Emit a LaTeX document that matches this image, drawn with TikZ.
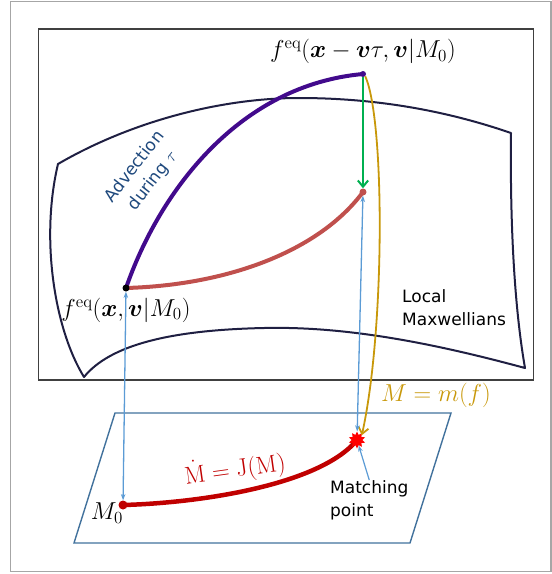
\documentclass[tikz,border=0pt]{standalone}
\usepackage{amsmath,amssymb,bm}
\usepackage[no-math]{fontspec}
\setmainfont{DejaVu Sans}
\usepackage{tikz}
\usetikzlibrary{arrows.meta,calc,positioning,shapes.geometric}

\definecolor{surfnavy}{RGB}{31,31,66}
\definecolor{advpurple}{RGB}{66,10,140}
\definecolor{flowred}{RGB}{192,80,77}
\definecolor{odered}{RGB}{192,0,0}
\definecolor{projgreen}{RGB}{0,176,80}
\definecolor{momgold}{RGB}{200,152,10}
\definecolor{liftblue}{RGB}{91,155,213}
\definecolor{planeblue}{RGB}{65,113,156}
\definecolor{txtblue}{RGB}{31,73,125}

\begin{document}
\begin{tikzpicture}[
    x=1pt, y=-1pt,
    txt/.style={
        font=\fontsize{17}{23}\selectfont,
        align=left,
        inner sep=0pt
    },
    mathlbl/.style={
        font=\huge,
        scale=1.18,
        inner sep=0pt
    },
    dot/.style={
        circle,
        fill,
        inner sep=0pt,
        minimum size=#1
    },
    dot/.default=7pt,
    surf/.style={
        draw=surfnavy,
        line width=2pt,
        line join=round
    },
    lift/.style={{Stealth[length=2.2mm,width=1.6mm]}-{Stealth[length=2.2mm,width=1.6mm]}, draw=liftblue, line width=1.3pt},
    barb/.style={-{Straight Barb[length=2.2mm,width=3.6mm]}, line width=2pt}
]
    \useasboundingbox (0,0) rectangle (552,574);
    %% Frames
    \draw[gray!70, line width=1.2pt] (10.5,1.5) rectangle (551,571.5);
    \draw[black!75, line width=1.2pt] (38.5,29) rectangle (533.5,380);

    %% Manifold of local Maxwellians
    \draw[surf] (58,164) .. controls (130,122) and (220,98) .. (299,98)
        .. controls (380,98) and (450,112) .. (511,133)
        .. controls (510,220) and (514,305) .. (525,368)
        .. controls (440,345) and (350,326) .. (264,328)
        .. controls (170,330) and (110,345) .. (84,377)
        .. controls (55,330) and (40,240) .. (58,164) -- cycle;

    %% Moment plane
    \draw[planeblue, line width=1.4pt] (115,413) -- (451,413) -- (410,543) -- (74,543) -- cycle;

    %% Points
    \coordinate (P0) at (126,288);
    \coordinate (PT) at (363,74);
    \coordinate (PR) at (363,192);
    \coordinate (M0) at (123,505);

    %% Curves
    \draw[advpurple, line width=4pt] (P0) .. controls (160,190) and (240,85) .. (PT);
    \draw[flowred, line width=4pt] (P0) .. controls (230,285) and (320,250) .. (PR);
    \draw[odered, line width=4.5pt] (M0) .. controls (200,503) and (320,485) .. (357,440);

    %% Dots
    \node[dot] (p0) at (P0) {};
    \node[dot=6pt, advpurple] (pt) at (PT) {};
    \node[dot, flowred] (pr) at (PR) {};
    \node[dot=9pt, odered] (m0) at (M0) {};
    \node[star, star points=10, star point ratio=1.6, fill=red, minimum size=17pt, inner sep=0pt] (match) at (357,440) {};

    %% Labels
    \node[mathlbl, above=7pt of pt] (ftop) {$f^{\mathrm{eq}}(\bm{x}-\bm{v}\tau,\bm{v}|M_0)$};
    \node[mathlbl, below=6pt of p0] (fzero) {$f^{\mathrm{eq}}(\bm{x},\bm{v}|M_0)$};
    \node[mathlbl, momgold] (mmap) at (436,395) {$M=m(f)$};
    \node[mathlbl] (mzero) at (107,513) {$M_0$};
    \node[mathlbl, odered, rotate=8] (ode) at (235,469) {$\dot{\mathrm{M}}=\mathrm{J}(\mathrm{M})$};
    \node[txt, anchor=west] (localmax) at (402,308) {Local\\Maxwellians};
    \node[txt, anchor=west] (matchtxt) at (330,500) {Matching\\point};
    \node[txt, txtblue, align=center, rotate=52] (advect) at (144,174) {Advection\\during $\tau$};

    %% Arrows
    \draw[barb, projgreen] (pt) -- (pr);
    \draw[barb, momgold, line width=1.8pt] (pt.south east) .. controls (385,120) and (385,330) .. (match.north east);
    \draw[lift] (p0) -- (m0);
    \draw[lift] (pr) -- (match);
    \draw[-{Stealth[length=2.2mm,width=1.6mm]}, liftblue, line width=1.2pt] (matchtxt.north) -- (match);
\end{tikzpicture}
\end{document}
